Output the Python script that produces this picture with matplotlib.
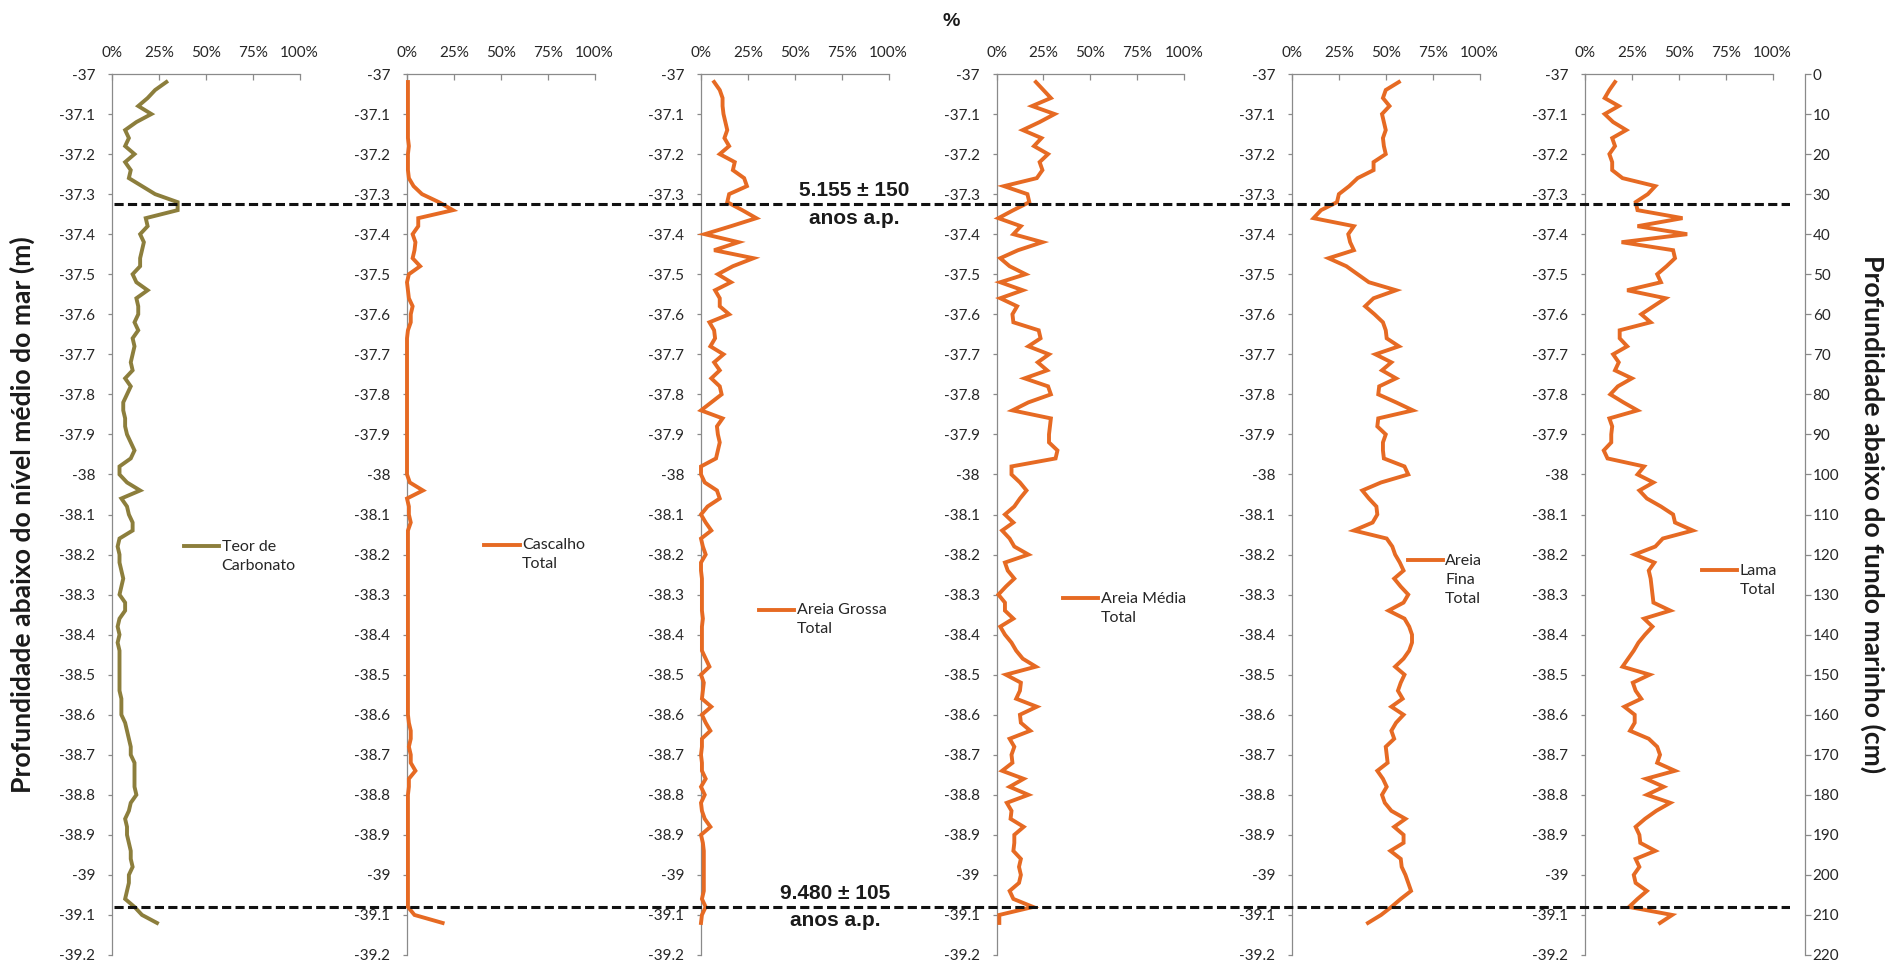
import matplotlib
matplotlib.use("Agg")
import matplotlib.pyplot as plt

plt.rcParams['axes.unicode_minus'] = False
plt.rcParams['font.family'] = ['Lato', 'DejaVu Sans']

# Sample depth below the sea floor (cm), every 2 cm
core_cm = [2, 4, 6, 8, 10, 12, 14, 16, 18, 20, 22, 24, 26, 28, 30, 32, 34, 36, 38, 40,
           42, 44, 46, 48, 50, 52, 54, 56, 58, 60, 62, 64, 66, 68, 70, 72, 74, 76, 78, 80,
           82, 84, 86, 88, 90, 92, 94, 96, 98, 100, 102, 104, 106, 108, 110, 112, 114, 116,
           118, 120, 122, 124, 126, 128, 130, 132, 134, 136, 138, 140, 142, 144, 146, 148,
           150, 152, 154, 156, 158, 160, 162, 164, 166, 168, 170, 172, 174, 176, 178, 180,
           182, 184, 186, 188, 190, 192, 194, 196, 198, 200, 202, 204, 206, 208, 210, 212]
seafloor_m = -37.0

carbonato = [29, 23, 19, 14, 21, 13, 7, 9, 7, 12, 7, 10, 9, 16, 23, 35, 35, 18, 19, 15,
             17, 16, 15, 15, 11, 13, 19, 13, 14, 14, 12, 14, 11, 12, 11, 10, 11, 7, 10, 8,
             6, 6, 7, 7, 8, 10, 12, 10, 4, 4, 8, 15, 5,
             8, 9, 11, 11, 4, 3, 4, 4, 5, 6, 5, 4, 7, 7, 4, 3, 4, 3, 4, 4,
             4, 4, 4, 4, 5, 5, 5, 7, 8, 9, 10, 10, 12, 12, 12, 12, 13, 10, 9, 7,
             8, 8, 9, 10, 10, 11, 9, 9, 8, 7, 12, 16, 24]
cascalho = [0.5, 0.5, 0.5, 0.5, 0.5, 0.5, 0.5, 0.5, 1, 0.5, 0.5, 0.5,
            1, 3.5, 8, 17, 24.5, 6, 6, 3, 4.5, 4, 3, 7, 1, 0, 0.5, 1, 3, 2, 2, 0.5,
            0, 0, 0, 0, 0, 0, 0, 0, 0, 0, 0, 0, 0, 0, 0, 0, 0, 0,
            1.5, 8.5, 0,
            1, 1, 2, 0.5,
            0.5, 0.5, 0.5, 0.5, 0.5, 0.5, 0.5, 0.5, 0.5, 0.5, 0.5, 0.5, 0.5, 0.5, 0.5,
            0.5, 0.5, 0.5, 0.5, 0.5, 0.5, 0.5, 0.5,
            1, 2, 2, 1, 2, 2, 4.5, 1, 1,
            0.5, 0.5, 0.5, 0.5, 0.5, 0.5, 0.5, 0.5, 0.5, 0.5, 0.5, 0.5, 0.5, 0.5, 0.5,
            4, 19]
areia_grossa = [7, 10, 11.5, 11.5, 12, 13, 14, 12.5, 15, 10, 18, 17, 23, 24.5, 15, 14, 22,
                29.5, 16, 2, 20, 7, 28, 17, 9, 16, 7.5, 10, 10, 15, 4.5, 7, 7.5, 5, 12, 7,
                10, 5.5, 10, 11, 5.5, 0, 11.5, 8.5, 9, 10, 9, 8, 0, 0, 2, 8.5, 10,
                3.5, 0, 2.5, 5.5, 0, 1, 2.5, 0, 0, 0.5,
                0.5, 0.5, 0.5, 0.5, 1, 0.5, 0.5, 0.5,
                0.5, 2.5, 4.5, 0, 1.5, 1, 0.5, 5.5, 0.5, 2.5, 5, 0.5, 0.5, 0, 0.5, 0.5,
                2.5, 0, 2, 0, 0.5, 2, 5, 0, 1,
                1.5, 1.5, 1.5, 1.5, 1.5, 1.5, 0.5, 2.5, 0.5, 0]
areia_media = [21, 25, 29, 19, 31, 23, 14, 24, 20, 27.5, 23, 24.5, 21.5, 4, 16.5, 17.5, 9,
               1, 13, 9, 24.5, 11.5, 2, 7, 15.5, 2, 14, 2, 11, 8.5, 9, 22.5, 23.5, 17, 28,
               22, 27, 15, 27.5, 29, 17, 8.5, 29, 28.5, 28, 28, 32.5, 31.5, 8, 8, 12.5, 16,
               12.5,
               9.5, 4.5, 9, 3, 7, 9.5, 17, 4.5, 6, 9.5, 5, 1, 4.5, 4.5, 9, 2, 4.5, 8, 10.5,
               14, 21, 5, 13, 12.5, 10.5, 21.5, 12.5, 13, 18, 7, 9.5, 8, 8.5, 3, 14.5, 7,
               17, 5.5, 8, 7.5, 14.5, 9.5, 9.5, 9, 13, 12, 13, 12, 7, 9, 19.5, 1.5, 1.5]
areia_fina = [57, 50, 48.5, 52, 48, 49, 50, 48.5, 49, 50, 43.5, 43.5, 35, 30.5, 25, 24,
              15.5, 11.5, 33, 30, 31, 33, 19.5, 29, 35, 41, 55.5, 43.5, 39, 44, 48.5, 50,
              50.5, 57, 44.5, 53, 48, 55.5, 46.5, 46, 55.5, 64.5, 46, 45.5, 50, 48.5, 48.5,
              49, 60, 62, 47.5, 37.5, 41,
              45, 45.5, 43, 33, 50.5, 53.5, 55, 57.5, 59.5, 54.5, 58, 62, 59.5, 51.5, 60,
              62.5, 64, 64, 62.5, 59.5, 55, 60, 58, 56.5, 59, 53, 59.5, 55.5, 53, 54.5,
              50, 50.5, 51, 45.5, 48.5, 50.5, 48, 49.5, 53, 60.5, 54.5, 59.5, 59.5, 52.5,
              58, 58.5, 60.5, 62, 63.5, 58, 53, 47.5, 40.5]
lama = [16, 13, 10.5, 18, 10.5, 15, 22, 14.5, 16, 13, 14.5, 14.5, 20, 37.5, 33.5, 27, 28,
        52, 28, 54.5, 19.5, 47, 48, 43.5, 38.5, 40.5, 22.5, 43, 36.5, 30, 35, 18.5, 18.5,
        22.5, 15, 18, 16, 25, 17.5, 13.5, 20.5, 28, 13, 14.5, 14, 14, 10, 12, 31.5, 28,
        36.5, 29, 33,
        40.5, 47, 48, 57.5, 41.5, 37.5, 26.5, 37, 34, 35, 35.5, 36, 36.5, 45.5, 31.5, 36,
        32, 28.5, 26, 23, 20, 34.5, 25.5, 27, 30, 21, 26.5, 26.5, 24, 34, 38.5, 40, 38.5,
        48, 32.5, 42, 33, 45.5, 38, 32, 27, 29, 29.5, 37.5, 27, 29, 26, 27, 33, 28, 23.5,
        46.5, 40]

series_labels = ['Teor de\nCarbonato', 'Cascalho\nTotal', 'Areia Grossa\nTotal',
                 'Areia Média\nTotal', 'Areia\nFina\nTotal', 'Lama\nTotal']
series_values = [carbonato, cascalho, areia_grossa, areia_media, areia_fina, lama]

pct_ticks = [0, 25, 50, 75, 100]
pct_labels = ['0%', '25%', '50%', '75%', '100%']
depth_ticks = [-37.0, -37.1, -37.2, -37.3, -37.4, -37.5, -37.6, -37.7, -37.8, -37.9,
               -38.0, -38.1, -38.2, -38.3, -38.4, -38.5, -38.6, -38.7, -38.8, -38.9,
               -39.0, -39.1, -39.2]
cm_ticks = [0, 10, 20, 30, 40, 50, 60, 70, 80, 90, 100, 110, 120, 130, 140, 150, 160,
            170, 180, 190, 200, 210, 220]

dated_levels = [-37.325, -39.08]
dated_ages = ['5.155 ± 150', '9.480 ± 105']

elev = [seafloor_m - c / 100.0 for c in core_cm]

# ---- layout (pixels) ----
W, H = 1888, 964
top_px, bot_px = 74, 955
panel_left_px = [112, 407, 701, 996.5, 1292, 1585]
panel_w_px = 187.5
# legend handle position inside each panel (axes fraction)
legend_handle_pos = [(0.385, 0.462), (0.413, 0.464), (0.310, 0.390),
                     (0.355, 0.403), (0.617, 0.446), (0.625, 0.435)]
colors = ['#8C7E3C', '#E66A23', '#E66A23', '#E66A23', '#E66A23', '#E66A23']
axis_gray = '#8A8A8A'
text_color = '#262626'
leg_fs = 11.5

fig = plt.figure(figsize=(W / 100, H / 100), dpi=100)
fig.patch.set_facecolor('white')


def rect(x0, w):
    return [x0 / W, 1 - bot_px / H, w / W, (bot_px - top_px) / H]


def depth_label(v):
    s = f"{v:.1f}"
    return s[:-2] if s.endswith('.0') else s


half_handle = (leg_fs * 100 / 72) / 2 / (bot_px - top_px)

axes = []
for i, (vals, lab) in enumerate(zip(series_values, series_labels)):
    ax = fig.add_axes(rect(panel_left_px[i], panel_w_px))
    ax.set_xlim(0, 100)
    ax.set_ylim(-39.2, -37.0)
    ax.plot(vals, elev, color=colors[i], lw=2.8, label=lab, clip_on=False,
            solid_joinstyle='miter', zorder=3)
    ax.xaxis.set_ticks_position('top')
    ax.set_xticks(pct_ticks)
    ax.set_xticklabels(pct_labels)
    ax.set_yticks(depth_ticks)
    ax.set_yticklabels([depth_label(v) for v in depth_ticks])
    for s in ('right', 'bottom'):
        ax.spines[s].set_visible(False)
    for s in ('left', 'top'):
        ax.spines[s].set_color(axis_gray)
        ax.spines[s].set_linewidth(0.9)
    ax.tick_params(axis='x', direction='in', length=4.5, width=0.9, color=axis_gray,
                   pad=10, labelsize=11, labelcolor=text_color)
    ax.tick_params(axis='y', direction='out', length=3, width=0.9, color=axis_gray,
                   pad=9, labelsize=11, labelcolor=text_color)
    hx, hy = legend_handle_pos[i]
    leg = ax.legend(loc='upper left', bbox_to_anchor=(hx, hy + half_handle),
                    frameon=False, fontsize=leg_fs, handlelength=2.2,
                    handleheight=1.0, handletextpad=0.15, borderpad=0,
                    borderaxespad=0, labelspacing=0.2)
    # line sample level with the first line of the label
    for col in leg._legend_handle_box.get_children():
        for row in col.get_children():
            row.align = 'top'
    for t in leg.get_texts():
        t.set_color(text_color)
        t.set_linespacing(1.45)
    axes.append(ax)

# secondary depth axis (cm below sea floor)
ax_r = axes[-1].twinx()
ax_r.set_ylim(220, 0)
ax_r.spines['right'].set_position(('axes', (1805 - panel_left_px[-1]) / panel_w_px))
for s in ('left', 'top', 'bottom'):
    ax_r.spines[s].set_visible(False)
ax_r.spines['right'].set_color(axis_gray)
ax_r.spines['right'].set_linewidth(0.9)
ax_r.set_yticks(cm_ticks)
ax_r.set_yticklabels([str(v) for v in cm_ticks])
ax_r.tick_params(axis='y', direction='out', length=4, width=0.9, color=axis_gray,
                 pad=1.5, labelsize=11, labelcolor=text_color)

# dated horizons
x0_px, x1_px = 114, 1790
ax_ov = fig.add_axes(rect(x0_px, x1_px - x0_px), zorder=10)
ax_ov.set_xlim(0, 1)
ax_ov.set_ylim(-39.2, -37.0)
ax_ov.axis('off')
ax_ov.patch.set_alpha(0)
age_x = [(854 - x0_px) / (x1_px - x0_px), (835 - x0_px) / (x1_px - x0_px)]
for lvl, age, ax_x in zip(dated_levels, dated_ages, age_x):
    ax_ov.axhline(lvl, color='#111111', lw=2.2, ls=(0, (3, 1.4)))
    ax_ov.text(ax_x, lvl + 0.011, age, ha='center', va='bottom', fontsize=15,
               fontweight='bold', family='Liberation Sans', color='#1a1a1a')
    ax_ov.text(ax_x, lvl - 0.011, 'anos a.p.', ha='center', va='top', fontsize=15,
               fontweight='bold', family='Liberation Sans', color='#1a1a1a')

fig.text(951 / W, 1 - 22 / H, '%', ha='center', va='center', fontsize=14,
         fontweight='bold', family='Liberation Sans', color='#1a1a1a')

# axis titles, sized so the right-hand title spans its measured length
mid_y = 1 - (top_px + bot_px) / 2 / H
title_l = fig.text(22 / W, mid_y, 'Profundidade abaixo do nível médio do mar (m)',
                   rotation=90, ha='center', va='center', fontsize=20,
                   fontweight='bold', color='#1a1a1a')
title_r = fig.text(1873 / W, mid_y, 'Profundidade abaixo do fundo marinho (cm)',
                   rotation=270, ha='center', va='center', fontsize=20,
                   fontweight='bold', color='#1a1a1a')
renderer = fig.canvas.get_renderer()
span = title_r.get_window_extent(renderer).height
title_fs = 20 * 516 / span
title_l.set_fontsize(title_fs)
title_r.set_fontsize(title_fs)

fig.savefig('out.png', dpi=100, facecolor='white')
